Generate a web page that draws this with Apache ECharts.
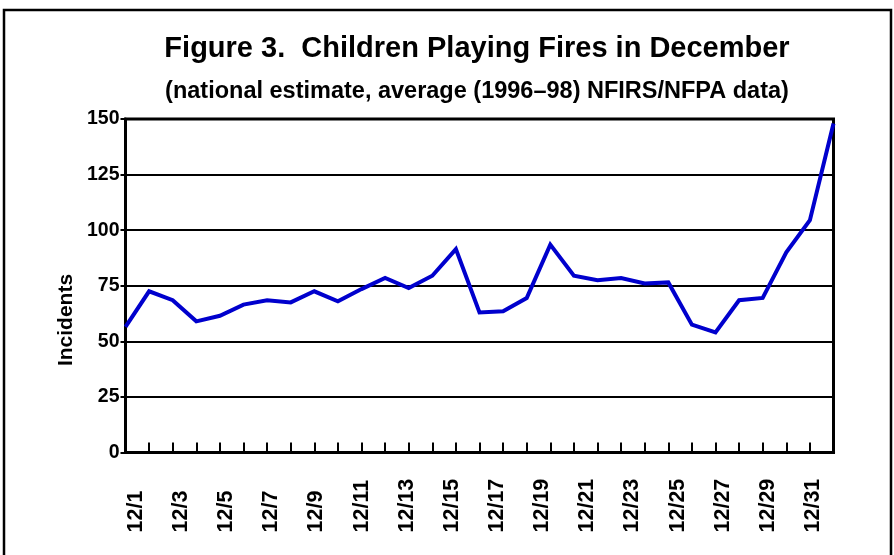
<!DOCTYPE html>
<html>
<head>
<meta charset="utf-8">
<script src="https://cdn.jsdelivr.net/npm/echarts@6/dist/echarts.min.js"></script>
<style>
  html, body { margin: 0; padding: 0; background: #fff; }
  #chart { width: 894px; height: 555px; }
</style>
</head>
<body>
<div id="chart"></div>
<script>
const days = []
for (let d = 1; d <= 31; d++) days.push('12/' + d)

// incidents per day
const incidents = [
  56.5, 72.5, 68.5, 59, 61.5, 66.5, 68.5, 67.5, 72.5, 68,
  73.5, 78.5, 74, 79.5, 91.5, 63, 63.5, 69.5, 93.5, 79.5,
  77.5, 78.5, 76, 76.5, 57.5, 54, 68.5, 69.5, 90, 104.5, 148
]

const titleText = 'Figure 3.  Children Playing Fires in December'
const subtitleText = '(national estimate, average (1996\u201398) NFIRS/NFPA data)'
const yName = 'Incidents'

const FONT = '"Liberation Sans", Arial, sans-serif'

const chart = echarts.init(document.getElementById('chart'))

chart.setOption({
  animation: false,
  backgroundColor: '#fff',
  textStyle: { fontFamily: FONT },
  graphic: [
    {
      type: 'rect', silent: true,
      shape: { x: 4, y: 10, width: 887, height: 600 },
      style: { fill: 'none', stroke: '#000', lineWidth: 2.5 }
    },
    {
      type: 'text', silent: true, x: 477, y: 49,
      style: { text: titleText, font: 'bold 29px ' + FONT, fill: '#000', textAlign: 'center', textVerticalAlign: 'middle' }
    },
    {
      type: 'text', silent: true, x: 477, y: 92,
      style: { text: subtitleText, font: 'bold 23.5px ' + FONT, fill: '#000', textAlign: 'center', textVerticalAlign: 'middle' }
    },
    {
      type: 'text', silent: true, x: 66, y: 320, rotation: Math.PI / 2,
      style: { text: yName, font: 'bold 21px ' + FONT, fill: '#000', textAlign: 'center', textVerticalAlign: 'middle' }
    }
  ],
  grid: [
    { left: 125.5, right: 60.5, top: 119, bottom: 102.5, show: true, borderColor: '#000', borderWidth: 3 },
    // labels sit on a slightly narrower span than the ticks in the original
    { left: 136, right: 81, top: 119, bottom: 102.5, show: false }
  ],
  xAxis: [
    {
      type: 'category', gridIndex: 0, data: days, boundaryGap: false,
      axisLine: { lineStyle: { color: '#000', width: 3 } },
      axisTick: { show: true, inside: true, length: 10, interval: 0, lineStyle: { color: '#000', width: 2 } },
      axisLabel: { show: false },
      splitLine: { show: false }
    },
    {
      type: 'category', gridIndex: 1, data: days, boundaryGap: false,
      axisLine: { show: false },
      axisTick: { show: false },
      splitLine: { show: false },
      axisLabel: {
        interval: 1, rotate: 90, margin: 80, align: 'left', verticalAlign: 'middle',
        color: '#000', fontWeight: 'bold', fontSize: 21.5, fontFamily: FONT
      }
    }
  ],
  yAxis: [
    {
      type: 'value', gridIndex: 0, min: 0, max: 150, interval: 25,
      axisLine: { show: true, lineStyle: { color: '#000', width: 3 } },
      axisTick: { show: true, length: 5, lineStyle: { color: '#000', width: 2 } },
      axisLabel: { margin: 6, color: '#000', fontWeight: 'bold', fontSize: 19.5, fontFamily: FONT },
      splitLine: { lineStyle: { color: '#000', width: 2 } }
    },
    {
      type: 'value', gridIndex: 1, min: 0, max: 150, show: false
    }
  ],
  series: [
    {
      type: 'line', xAxisIndex: 0, yAxisIndex: 0, data: incidents,
      symbol: 'none', smooth: false,
      lineStyle: { color: '#0000cd', width: 4, join: 'miter' }
    }
  ]
})
</script>
</body>
</html>
